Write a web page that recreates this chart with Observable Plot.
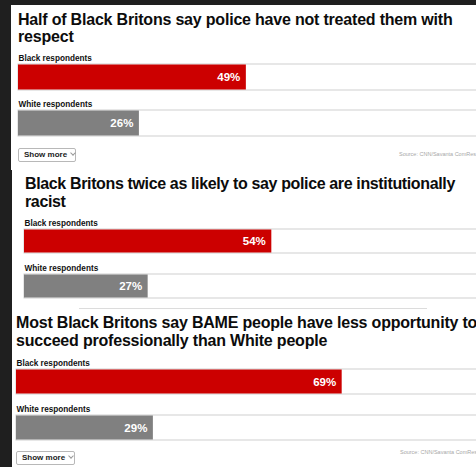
<!DOCTYPE html>
<html>
<head>
<meta charset="utf-8">
<script src="https://cdn.jsdelivr.net/npm/d3@7"></script>
<script src="https://cdn.jsdelivr.net/npm/@observablehq/plot@0.6"></script>
<style>
  html, body { margin: 0; padding: 0; }
  body { width: 476px; height: 467px; overflow: hidden; background: #1f1f1f; position: relative;
         font-family: "Liberation Sans", Arial, Helvetica, sans-serif; }
  .panel { position: absolute; background: #fff; }
  .title { position: absolute; font-weight: bold; font-size: 16px; line-height: 18px; color: #0c0c0c;
           white-space: nowrap; letter-spacing: -0.2px; }
  .btn { position: absolute; box-sizing: border-box; border: 1px solid #b8b8b8; border-radius: 2px;
         font-size: 8px; font-weight: bold; color: #222; line-height: 12px; padding-left: 5px; white-space: nowrap; background:#fff; }
  .chev { display: inline-block; width: 3px; height: 3px; border-right: 1px solid #999; border-bottom: 1px solid #999;
          transform: rotate(45deg); margin-left: 4px; position: relative; top: -2px; }
  .src { position: absolute; font-size: 5.5px; color: #a8a8a8; white-space: nowrap; }
  .sep { position: absolute; height: 1px; background: #dcdcdc; }
  svg.plot { position: absolute; left: 0; }
</style>
</head>
<body>
<script>
// ---- data ----
const titles = [
  ["Half of Black Britons say police have not treated them with", "respect"],
  ["Black Britons twice as likely to say police are institutionally", "racist"],
  ["Most Black Britons say BAME people have less opportunity to", "succeed professionally than White people"]
];
const categories = ["Black respondents", "White respondents"];
const respectValues = [49, 26];
const racistValues = [54, 27];
const opportunityValues = [69, 29];
const barColors = ["#cc0000", "#808080"];
const buttonLabel = "Show more";
const sourceLabel = "Source: CNN/Savanta ComRes";

// ---- layout (pixels) ----
const panels = [
  {box: [11, 5, 465, 165], titleX: 18, titleTop: 12, lh: 16.5, ls: -0.2, values: respectValues,
   svgTop: 50, x0: 18, x100: 483, yr: [14, 86], pad: 20/46, button: [18, 148, 58, 14], src: [399, 151]},
  {box: [12, 170, 464, 140], titleX: 25, titleTop: 175, lh: 18.4, ls: -0.36, values: racistValues,
   svgTop: 215, x0: 24, x100: 482, yr: [14, 83], pad: 21/45, sep: [79, 308, 348]},
  {box: [12, 310, 464, 157], titleX: 16, titleTop: 314, lh: 18.4, ls: -0.2, values: opportunityValues,
   svgTop: 355, x0: 16, x100: 488, yr: [14, 85], pad: 21/46, button: [16, 451, 59, 14], src: [400, 449]}
];

panels.forEach((p, i) => {
  const box = document.createElement("div");
  box.className = "panel";
  Object.assign(box.style, {left: p.box[0] + "px", top: p.box[1] + "px", width: p.box[2] + "px", height: p.box[3] + "px"});
  document.body.appendChild(box);

  const t = document.createElement("div");
  t.className = "title";
  t.style.left = p.titleX + "px";
  t.style.top = p.titleTop + "px";
  t.style.lineHeight = p.lh + "px";
  t.style.letterSpacing = p.ls + "px";
  t.innerHTML = titles[i].join("<br>");
  document.body.appendChild(t);

  const data = categories.map((c, j) => ({cat: c, value: p.values[j]}));
  const L = p.yr[1] - p.yr[0];
  const step = L / (2 - p.pad);
  const bw = step * (1 - p.pad);

  const chart = Plot.plot({
    width: 476,
    height: 92,
    margin: 0,
    style: {background: "transparent", fontFamily: "'Liberation Sans', Arial, sans-serif", overflow: "hidden"},
    x: {domain: [0, 100], range: [p.x0, p.x100], axis: null},
    y: {domain: categories, range: p.yr, paddingInner: p.pad, paddingOuter: 0, axis: null},
    color: {domain: categories, range: barColors},
    marks: [
      Plot.barX(data, {x1: 0, x2: 100, y: "cat", fill: "white", stroke: "#cfcfcf", strokeWidth: 1}),
      Plot.barX(data, {x1: 0, x2: "value", y: "cat", fill: "cat", insetTop: 0.5, insetBottom: 0.5}),
      Plot.text(data, {x: "value", y: "cat", text: d => d.value + "%", textAnchor: "end", dx: -6,
                       fill: "white", fontWeight: "bold", fontSize: 11.5}),
      Plot.text(data, {x: 0, y: "cat", text: "cat", textAnchor: "start", lineAnchor: "bottom",
                       dy: -(bw / 2 + 3.8), fill: "#111", fontWeight: "bold", fontSize: 8.2})
    ]
  });
  chart.classList.add("plot");
  chart.style.top = p.svgTop + "px";
  document.body.appendChild(chart);

  if (p.button) {
    const b = document.createElement("div");
    b.className = "btn";
    Object.assign(b.style, {left: p.button[0] + "px", top: p.button[1] + "px", width: p.button[2] + "px", height: p.button[3] + "px"});
    b.innerHTML = buttonLabel + '<span class="chev"></span>';
    document.body.appendChild(b);
  }
  if (p.src) {
    const s = document.createElement("div");
    s.className = "src";
    s.style.left = p.src[0] + "px";
    s.style.top = p.src[1] + "px";
    s.textContent = sourceLabel;
    document.body.appendChild(s);
  }
  if (p.sep) {
    const s = document.createElement("div");
    s.className = "sep";
    Object.assign(s.style, {left: p.sep[0] + "px", top: p.sep[1] + "px", width: p.sep[2] + "px"});
    document.body.appendChild(s);
  }
});
</script>
</body>
</html>
